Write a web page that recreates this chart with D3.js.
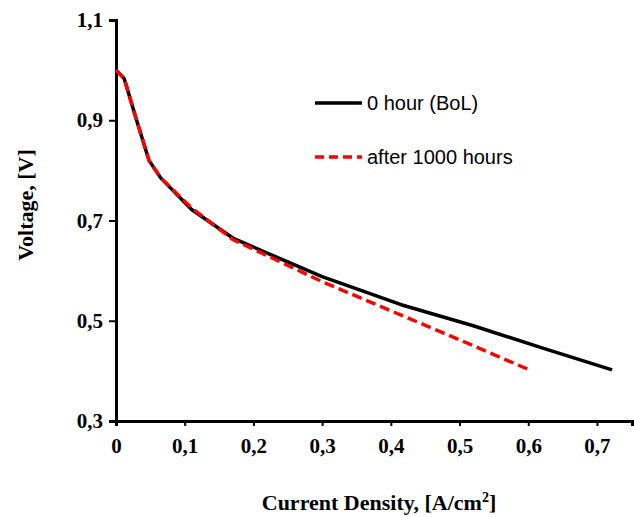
<!DOCTYPE html>
<html>
<head>
<meta charset="utf-8">
<script src="https://cdn.jsdelivr.net/npm/d3@7"></script>
<style>
  body { margin: 0; background: #fff; }
  text.tick-lbl { font-family: "Liberation Serif", "Times New Roman", serif; font-weight: bold; font-size: 21px; }
  text.title { font-family: "Liberation Serif", "Times New Roman", serif; font-weight: bold; font-size: 22px; }
  text.legend { font-family: "Liberation Sans", Arial, sans-serif; font-size: 20px; }
</style>
</head>
<body>
<svg id="chart"></svg>
<script>
// current density [A/cm2] and voltage [V]
const bolCurrent = [0, 0.012, 0.03, 0.048, 0.065, 0.11, 0.17, 0.22, 0.3, 0.415, 0.52, 0.62, 0.722]
const bolVoltage = [1.0, 0.983, 0.9, 0.82, 0.785, 0.722, 0.665, 0.635, 0.588, 0.532, 0.49, 0.446, 0.402]

const agedCurrent = [0, 0.012, 0.03, 0.048, 0.065, 0.11, 0.17, 0.22, 0.3, 0.4, 0.5, 0.605]
const agedVoltage = [1.0, 0.983, 0.9, 0.82, 0.785, 0.725, 0.662, 0.63, 0.578, 0.52, 0.462, 0.4]

const xTicks = [0, 0.1, 0.2, 0.3, 0.4, 0.5, 0.6, 0.7]
const yTicks = [0.3, 0.5, 0.7, 0.9, 1.1]

const seriesNames = ["0 hour (BoL)", "after 1000 hours"]

const width = 634, height = 517
const svg = d3.select("#chart").attr("width", width).attr("height", height)

const x = d3.scaleLinear().domain([0, 0.751]).range([116, 632])
const y = d3.scaleLinear().domain([0.3, 1.1]).range([421, 20])

const fmt = d => d === 0 ? "0" : d3.format(".1f")(d).replace(".", ",")

// axes
const xAxis = svg.append("g")
  .attr("transform", `translate(0,${y(0.3)})`)
  .call(d3.axisBottom(x).tickValues(xTicks).tickSize(5).tickFormat(fmt))
const yAxis = svg.append("g")
  .attr("transform", `translate(${x(0)},0)`)
  .call(d3.axisLeft(y).tickValues(yTicks).tickSize(7).tickFormat(fmt))

;[xAxis, yAxis].forEach(a => {
  a.attr("font-size", null).attr("font-family", null)
  a.select(".domain").attr("stroke", "#000").attr("stroke-width", 3)
  a.selectAll(".tick line").attr("stroke", "#000").attr("stroke-width", 2)
  a.selectAll(".tick text").attr("class", "tick-lbl").attr("fill", "#000")
})
xAxis.selectAll(".tick text").attr("dy", null).attr("y", 32)
yAxis.selectAll(".tick text").attr("x", -13)

// lines
const line = d3.line().x(d => x(d[0])).y(d => y(d[1]))
const bol = d3.zip(bolCurrent, bolVoltage)
const aged = d3.zip(agedCurrent, agedVoltage)

svg.append("path").datum(bol)
  .attr("d", line).attr("fill", "none")
  .attr("stroke", "#000").attr("stroke-width", 3.5)
  .attr("stroke-linejoin", "round")

svg.append("path").datum(aged)
  .attr("d", line).attr("fill", "none")
  .attr("stroke", "#ff0000").attr("stroke-width", 3.5)
  .attr("stroke-dasharray", "10,5")

// legend
const legend = svg.append("g")
legend.append("line").attr("x1", 315).attr("x2", 362).attr("y1", 103).attr("y2", 103)
  .attr("stroke", "#000").attr("stroke-width", 3.5)
legend.append("line").attr("x1", 315).attr("x2", 362).attr("y1", 157).attr("y2", 157)
  .attr("stroke", "#ff0000").attr("stroke-width", 3.5).attr("stroke-dasharray", "9,5")
legend.selectAll("text.legend")
  .data(seriesNames)
  .join("text")
  .attr("class", "legend")
  .attr("x", 367)
  .attr("y", (d, i) => 110 + i * 54)
  .text(d => d)

// axis titles
const xt = svg.append("text").attr("class", "title")
  .attr("x", 379).attr("y", 510).attr("text-anchor", "middle")
xt.append("tspan").text("Current Density, [A/cm")
xt.append("tspan").attr("font-size", "14px").attr("dy", "-8").text("2")
xt.append("tspan").attr("dy", "8").text("]")

svg.append("text").attr("class", "title")
  .attr("transform", `translate(33,205) rotate(-90)`)
  .attr("text-anchor", "middle")
  .text("Voltage, [V]")
</script>
</body>
</html>
